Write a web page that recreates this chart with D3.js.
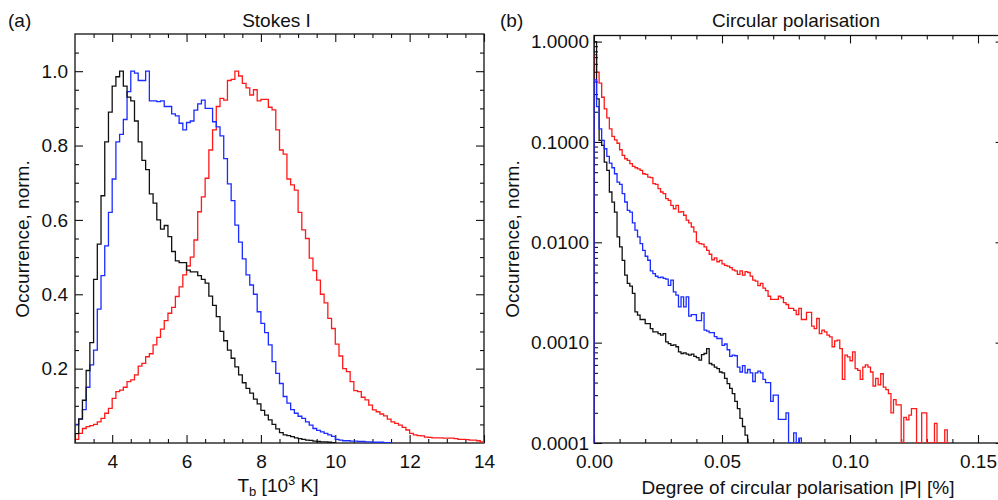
<!DOCTYPE html>
<html>
<head>
<meta charset="utf-8">
<script src="https://cdn.jsdelivr.net/npm/d3@7"></script>
<style>
  body { margin: 0; background: #fff; }
  text { font-family: "Liberation Sans", Arial, Helvetica, sans-serif; fill: #111; }
</style>
</head>
<body>
<div id="chart"></div>
<script>
// ---- Stokes I histograms, bins of 0.1 (10^3 K) starting at 3.0
var tbStart = 3.0, tbStep = 0.1;
var tbBlack = [0.025,0.064,0.115,0.195,0.27,0.44,0.535,0.665,0.81,0.89,
  0.96,0.985,1.0,0.96,0.93,0.92,0.866,0.81,0.76,0.735,
  0.67,0.645,0.60,0.575,0.585,0.555,0.515,0.49,0.485,0.485,
  0.465,0.46,0.46,0.45,0.44,0.43,0.395,0.37,0.34,0.30,
  0.275,0.25,0.228,0.205,0.183,0.162,0.147,0.134,0.118,0.105,
  0.088,0.075,0.062,0.05,0.038,0.028,0.022,0.02,0.017,0.014,
  0.012,0.01,0.008,0.007,0.005,0.004,0.003,0.003,0.002,0.001];
var tbBlue = [0.05,0.065,0.09,0.15,0.21,0.25,0.36,0.45,0.53,0.62,
  0.71,0.81,0.83,0.87,0.945,1.0,0.995,0.975,0.975,1.0,
  0.92,0.92,0.918,0.92,0.905,0.905,0.885,0.88,0.86,0.842,
  0.862,0.866,0.895,0.912,0.922,0.9,0.9,0.864,0.85,0.826,
  0.765,0.697,0.652,0.586,0.54,0.495,0.452,0.425,0.40,0.353,
  0.322,0.297,0.264,0.219,0.187,0.16,0.125,0.107,0.09,0.08,
  0.072,0.066,0.057,0.048,0.039,0.034,0.03,0.026,0.022,0.018,
  0.01,0.008,0.006,0.006,0.005,0.005,0.004,0.004,0.003,0.003,
  0.002,0.002,0.002,0.001,0.001];
var tbRed = [0.01,0.026,0.039,0.044,0.047,0.05,0.057,0.066,0.08,0.093,
  0.12,0.138,0.142,0.15,0.165,0.17,0.183,0.207,0.214,0.232,
  0.24,0.264,0.284,0.306,0.329,0.349,0.365,0.394,0.42,0.452,
  0.476,0.50,0.546,0.622,0.662,0.712,0.788,0.842,0.905,0.927,
  0.922,0.975,0.978,1.0,0.987,0.967,0.955,0.936,0.95,0.92,
  0.924,0.924,0.903,0.896,0.842,0.788,0.777,0.71,0.694,0.68,
  0.62,0.573,0.55,0.497,0.464,0.438,0.40,0.377,0.335,0.308,
  0.266,0.234,0.2,0.192,0.165,0.141,0.138,0.123,0.116,0.102,
  0.089,0.084,0.078,0.073,0.064,0.057,0.053,0.048,0.042,0.035,
  0.026,0.022,0.02,0.019,0.016,0.015,0.014,0.014,0.014,0.013,
  0.013,0.013,0.012,0.01,0.01,0.009,0.008,0.008,0.006,0.003];

// ---- circular polarisation histograms, bins of 0.001 % starting at 0
var pStart = 0, pStep = 0.001;
var pBlack = [1.0,0.269,0.1035,0.0923,0.063,0.052,0.0317,0.0251,0.020,0.0113,
  0.009,0.0066,0.0047,0.0039,0.00365,0.0031,0.00203,0.00188,0.0017,0.0017,
  0.00155,0.00155,0.00138,0.00128,0.00128,0.00123,0.00119,0.00123,0.00102,0.00098,
  0.00094,0.00095,0.00091,0.00081,0.00078,0.00079,0.00077,0.00075,0.00077,0.00073,
  0.00071,0.00067,0.00076,0.00078,0.00087,0.00062,0.0006,0.00057,0.00055,0.00051,
  0.0005,0.00044,0.00039,0.00035,0.00031,0.00026,0.00022,0.000176,0.000146,0.00012];
var pBlue = [0.416,0.225,0.135,0.1035,0.0855,0.0717,0.0616,0.0553,0.0482,0.0398,
  0.0378,0.0305,0.0252,0.0208,0.020,0.0156,0.0132,0.0113,0.0097,0.0083,
  0.00726,0.00662,0.00518,0.00488,0.00459,0.00445,0.0045,0.00436,0.0043,0.00373,
  0.00419,0.0032,0.00297,0.00227,0.00286,0.00227,0.00286,0.00184,0.0019,0.0019,
  0.00166,0.00166,0.00198,0.00133,0.0013,0.00126,0.00126,0.00115,0.0011,0.0011,
  0.00094,0.00097,0.00085,0.00073,0.00075,0.00074,0.00057,0.00051,0.00059,0.0005,
  0.00054,0.0005,0.00041,0.0005,0.00052,0.0005,0.00043,0.0004,0.0004,0.00026,
  0.0003,0.0003,0.000172,0.000172,0.000172,0.0002,0,0,0.000126,0,
  0.000112];
var pRed = [0.74,0.495,0.385,0.279,0.214,0.174,0.135,0.1135,0.105,0.097,
  0.0836,0.0734,0.068,0.0655,0.0607,0.057,0.0553,0.054,0.052,0.0482,
  0.0475,0.0447,0.044,0.0384,0.0378,0.0342,0.0317,0.0305,0.0272,0.0262,
  0.0233,0.0216,0.0233,0.020,0.0202,0.0186,0.0166,0.0156,0.0142,0.0127,
  0.0101,0.0097,0.0096,0.009,0.0083,0.0076,0.0067,0.0070,0.0064,0.0066,
  0.0061,0.0059,0.0058,0.0056,0.0053,0.0052,0.0048,0.0052,0.0047,0.0051,
  0.0050,0.0046,0.0042,0.0041,0.0037,0.0039,0.0035,0.0033,0.0029,0.0027,
  0.0027,0.0027,0.0029,0.0028,0.0025,0.0024,0.0022,0.0022,0.0021,0.0019,
  0.0022,0.0017,0.0017,0.0020,0.0020,0.00146,0.00138,0.00174,0.00123,0.00133,
  0.00128,0.00119,0.00114,0.00091,0.00104,0.00106,0.00087,0.00043,0.00075,0.00072,
  0.00066,0.00081,0.00055,0.00053,0.00043,0.00057,0.0006,0.00057,0.00051,0.00037,
  0.00044,0.00038,0.00049,0.00036,0.00034,0.00031,0.0002,0.00027,0.00024,0.00024,
  0,0.00018,0.00017,0.00019,0.00022,0.00022,0,0,0.0002,0.0002,
  0,0,0,0.000157,0,0,0,0.000135,0];

// ---- tick labels
var tbTicks = [4, 6, 8, 10, 12, 14];
var occTicks = [0.2, 0.4, 0.6, 0.8, 1.0];
var pTicks = [0.00, 0.05, 0.10, 0.15];
var occLogTicks = [0.0001, 0.001, 0.01, 0.1, 1];

var colBlack = "#111111", colBlue = "#1a2cff", colRed = "#ff1a1a";
var fontSize = 19;

var svg = d3.select("#chart")
  .append("svg")
    .attr("width", 998)
    .attr("height", 500);

// turns a list of bin values into step points, closed down to zero at both ends
function steps(vals, start, step) {
  var pts = [[start, 0]];
  vals.forEach(function(v, i) { pts.push([start + i * step, v]); });
  var end = start + vals.length * step;
  pts.push([end, vals[vals.length - 1]]);
  pts.push([end, 0]);
  return pts;
}

function addTicks(g, axisFn, scale, values, size, fmt, pad) {
  var ax = axisFn(scale)
    .tickValues(values)
    .tickSize(-size)
    .tickSizeOuter(0)
    .tickPadding(pad || 0)
    .tickFormat(fmt || function() { return ""; });
  g.call(ax)
    .attr("font-family", null)
    .attr("font-size", fontSize)
    .attr("color", "#111");
  g.select(".domain").remove();
  g.selectAll(".tick line").attr("stroke-width", 1.1);
}

function drawPanel(p) {
  var x = p.x, y = p.y;
  var x0 = x.range()[0], x1 = x.range()[1], y0 = y.range()[1], y1 = y.range()[0];
  var g = svg.append("g");

  g.append("clipPath").attr("id", p.id + "clip")
    .append("rect")
      .attr("x", x0).attr("y", y0)
      .attr("width", x1 - x0).attr("height", y1 - y0);

  // ticks on all four sides, pointing inwards
  var bottom = g.append("g").attr("transform", "translate(0," + y1 + ")");
  addTicks(bottom, d3.axisBottom, x, p.xMajor, 8, p.xFmt, 11.5);
  addTicks(g.append("g").attr("transform", "translate(0," + y1 + ")"), d3.axisBottom, x, p.xMinor, 4);
  addTicks(g.append("g").attr("transform", "translate(0," + y0 + ")"), d3.axisTop, x, p.xMajor, 8);
  addTicks(g.append("g").attr("transform", "translate(0," + y0 + ")"), d3.axisTop, x, p.xMinor, 4);

  var left = g.append("g").attr("transform", "translate(" + x0 + ",0)");
  addTicks(left, d3.axisLeft, y, p.yMajor, 8, p.yFmt, p.yPad);
  addTicks(g.append("g").attr("transform", "translate(" + x0 + ",0)"), d3.axisLeft, y, p.yMinor, 4);
  addTicks(g.append("g").attr("transform", "translate(" + x1 + ",0)"), d3.axisRight, y, p.yMajor, 8);
  addTicks(g.append("g").attr("transform", "translate(" + x1 + ",0)"), d3.axisRight, y, p.yMinor, 4);

  g.append("rect")
    .attr("x", x0).attr("y", y0)
    .attr("width", x1 - x0).attr("height", y1 - y0)
    .attr("fill", "none")
    .attr("stroke", "#111")
    .attr("stroke-width", 1.3);

  var line = d3.line()
    .curve(d3.curveStepAfter)
    .x(function(d) { return x(d[0]); })
    .y(function(d) { return y(Math.max(d[1], p.floor)); });

  g.append("g")
    .attr("clip-path", "url(#" + p.id + "clip)")
    .selectAll("path")
    .data(p.series)
    .enter().append("path")
      .attr("d", function(s) { return line(steps(s.values, p.start, p.step)); })
      .attr("fill", "none")
      .attr("stroke", function(s) { return s.color; })
      .attr("stroke-width", 1.3)
      .attr("stroke-linejoin", "miter");

  // labels
  g.append("text")
    .attr("x", p.tagX).attr("y", 27)
    .attr("font-size", fontSize)
    .text(p.tag);
  g.append("text")
    .attr("x", (x0 + Math.min(x1, 998)) / 2 + p.titleDx).attr("y", 27)
    .attr("text-anchor", "middle")
    .attr("font-size", fontSize)
    .text(p.title);
  g.append("text")
    .attr("transform", "translate(" + p.yTitleX + ",239) rotate(-90)")
    .attr("text-anchor", "middle")
    .attr("font-size", fontSize)
    .text("Occurrence, norm.");
  return g;
}

// (a) Stokes I
var xA = d3.scaleLinear().domain([3, 14]).range([75, 484]);
var yA = d3.scaleLinear().domain([0, 1.1]).range([443, 34]);
var gA = drawPanel({
  id: "a", x: xA, y: yA, floor: 0,
  start: tbStart, step: tbStep,
  xMajor: tbTicks, xMinor: d3.range(3.5, 14, 0.5).filter(function(v) { return v % 2 !== 0; }),
  xFmt: d3.format("d"),
  yMajor: occTicks, yMinor: d3.range(1, 22).map(function(k) { return k * 0.05; }).filter(function(v, i) { return (i + 1) % 4 !== 0; }),
  yFmt: d3.format(".1f"), yPad: 7,
  series: [{values: tbRed, color: colRed}, {values: tbBlue, color: colBlue}, {values: tbBlack, color: colBlack}],
  tag: "(a)", tagX: 8, title: "Stokes I", titleDx: -3, yTitleX: 29
});
var tbLabel = gA.append("text")
  .attr("x", 278).attr("y", 492)
  .attr("text-anchor", "middle")
  .attr("font-size", fontSize);
tbLabel.append("tspan").text("T");
tbLabel.append("tspan").attr("font-size", 13).attr("dy", 4).text("b");
tbLabel.append("tspan").attr("dy", -4).text(" [10");
tbLabel.append("tspan").attr("font-size", 13).attr("dy", -7).text("3");
tbLabel.append("tspan").attr("dy", 7).text(" K]");

// (b) circular polarisation
var xB = d3.scaleLinear().domain([0, 0.16]).range([594, 1003.6]);
var yB = d3.scaleLog().domain([1e-4, 1.15]).range([443, 35.5]);
var logMinor = [];
occLogTicks.slice(0, 4).forEach(function(d) {
  for (var k = 2; k <= 9; k++) logMinor.push(d * k);
});
var gB = drawPanel({
  id: "b", x: xB, y: yB, floor: 1e-4,
  start: pStart, step: pStep,
  xMajor: pTicks, xMinor: d3.range(1, 16).map(function(k) { return k * 0.01; }).filter(function(v, i) { return (i + 1) % 5 !== 0; }),
  xFmt: d3.format(".2f"),
  yMajor: occLogTicks, yMinor: logMinor,
  yFmt: d3.format(".4f"), yPad: 5,
  series: [{values: pRed, color: colRed}, {values: pBlack, color: colBlack}, {values: pBlue, color: colBlue}],
  tag: "(b)", tagX: 500, title: "Circular polarisation", titleDx: 0, yTitleX: 519
});
gB.append("text")
  .attr("x", 798).attr("y", 494)
  .attr("text-anchor", "middle")
  .attr("font-size", fontSize)
  .text("Degree of circular polarisation |P| [%]");
</script>
</body>
</html>
